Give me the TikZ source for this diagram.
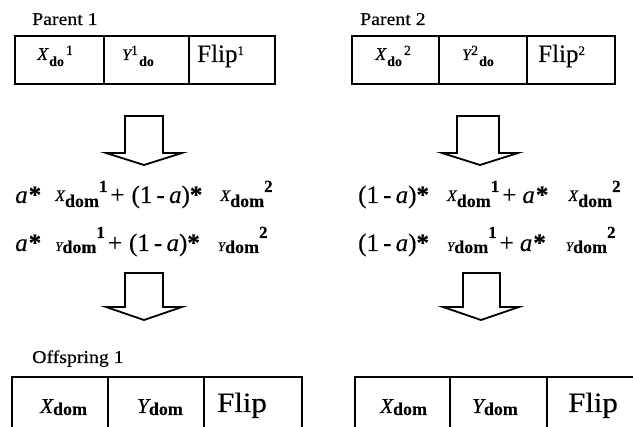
\documentclass[tikz,border=0pt]{standalone}
\usepackage{fontspec}
\setmainfont{Liberation Serif}[FakeBold=0.3]
\newcommand{\fsz}[1]{\fontsize{#1}{#1}\selectfont}
\newcommand{\hs}[1]{\scalebox{1.1}[1]{#1}}
\newcommand{\termX}[1]{\raisebox{2pt}{\fsz{16}\itshape X}\raisebox{-4pt}{\fsz{18}\bfseries dom}\raisebox{11pt}{\fsz{17}\bfseries #1}}
\newcommand{\termY}[1]{{\fsz{13}\itshape Y}\raisebox{-2pt}{\fsz{18}\bfseries dom}\raisebox{13pt}{\fsz{17}\bfseries #1}}
\newcommand{\astar}{{\itshape a}\hspace{1pt}{\bfseries *}}
\newcommand{\omastar}{(1\,-\,{\itshape a}){\bfseries *}}
\begin{document}
\begin{tikzpicture}[x=1pt,y=-1pt,
  cell/.style={draw, line width=1.6pt, inner sep=0pt, minimum height=48pt},
  boxline/.style={draw, line width=1.6pt},
  txt/.style={anchor=base west, inner sep=0pt},
  blockarrow/.style={draw, line width=1.8pt, line join=miter}]
\useasboundingbox (0,0) rectangle (633,427);

% labels
\node[txt] (lp1) at (32,25) {\hs{\fsz{18}Parent 1}};
\node[txt] (lp2) at (360,25) {\hs{\fsz{18}Parent 2}};

% parent 1 cells
\node[cell, minimum width=89pt] (p1a) at (59.5,60) {};
\node[cell, minimum width=85pt] (p1b) at (146.5,60) {};
\node[cell, minimum width=86pt] (p1c) at (232,60) {};
% parent 2 cells
\node[cell, minimum width=87pt] (p2a) at (395.5,60) {};
\node[cell, minimum width=88pt] (p2b) at (483,60) {};
\node[cell, minimum width=88pt] (p2c) at (571,60) {};

% cell texts
\node[txt] (t1a) at (37,60) {{\fsz{18}\itshape X}\hspace{1pt}\raisebox{-6pt}{\fsz{14}\bfseries do}\hspace{2pt}\raisebox{5pt}{\fsz{14}1}};
\node[txt] (t1b) at (122,60) {{\fsz{16}\itshape Y}\raisebox{5pt}{\fsz{14}1}\hspace{1pt}\raisebox{-6pt}{\fsz{14}\bfseries do}};
\node[txt] (t1c) at (197,62) {{\fsz{25}Flip}\raisebox{7pt}{\fsz{13}1}};
\node[txt] (t2a) at (375,60) {{\fsz{18}\itshape X}\hspace{1pt}\raisebox{-6pt}{\fsz{14}\bfseries do}\hspace{2pt}\raisebox{5pt}{\fsz{14}2}};
\node[txt] (t2b) at (462,60) {{\fsz{16}\itshape Y}\raisebox{5pt}{\fsz{14}2}\hspace{1pt}\raisebox{-6pt}{\fsz{14}\bfseries do}};
\node[txt] (t2c) at (538,62) {{\fsz{25}Flip}\raisebox{7pt}{\fsz{13}2}};

% block arrows
\draw[blockarrow] (125,116) -- (163,116) -- (163,153) -- (182,153) -- (144,165) -- (106,153) -- (125,153) -- cycle;
\draw[blockarrow] (457,116) -- (499,116) -- (499,153) -- (518,153) -- (480,165) -- (442,153) -- (457,153) -- cycle;
\draw[blockarrow] (125,273) -- (163,273) -- (163,307) -- (182,307) -- (144,320) -- (106,307) -- (125,307) -- cycle;
\draw[blockarrow] (463,273) -- (500,273) -- (500,307) -- (519,307) -- (481,320) -- (443,307) -- (463,307) -- cycle;

% formulas
\node[txt] (fl1) at (15,203) {\fsz{25}\astar\hspace{14pt}\termX{1}\hspace{3pt}+\hspace{7pt}\omastar\hspace{18pt}\termX{2}};
\node[txt] (fl2) at (15,251) {\fsz{25}\astar\hspace{14pt}\termY{1}\hspace{3pt}+\hspace{7pt}\omastar\hspace{18pt}\termY{2}};
\node[txt] (fr1) at (358,203) {\fsz{25}\omastar\hspace{18pt}\termX{1}\hspace{3pt}+\hspace{6pt}\astar\hspace{20pt}\termX{2}};
\node[txt] (fr2) at (358,251) {\fsz{25}\omastar\hspace{18pt}\termY{1}\hspace{3pt}+\hspace{6pt}\astar\hspace{20pt}\termY{2}};

% offspring
\node[txt] (lo1) at (32,363) {\hs{\fsz{18}Offspring 1}};
\draw[boxline] (12,427) -- (12,377) -- (302,377) -- (302,427);
\draw[boxline] (108,377) -- (108,427);
\draw[boxline] (204,377) -- (204,427);
\draw[boxline] (355,427) -- (355,377) -- (633,377);
\draw[boxline] (450,377) -- (450,427);
\draw[boxline] (547,377) -- (547,427);

\node[txt] (o1a) at (40,413) {{\fsz{21}\itshape X}\raisebox{-2pt}{\fsz{18}\bfseries dom}};
\node[txt] (o1b) at (137,413) {{\fsz{21}\itshape Y}\raisebox{-2pt}{\fsz{18}\bfseries dom}};
\node[txt] (o1c) at (217,412) {\hs{\fsz{28}Flip}};
\node[txt] (o2a) at (380,413) {{\fsz{21}\itshape X}\raisebox{-2pt}{\fsz{18}\bfseries dom}};
\node[txt] (o2b) at (472,413) {{\fsz{21}\itshape Y}\raisebox{-2pt}{\fsz{18}\bfseries dom}};
\node[txt] (o2c) at (568,412) {\hs{\fsz{28}Flip}};
\end{tikzpicture}
\end{document}
